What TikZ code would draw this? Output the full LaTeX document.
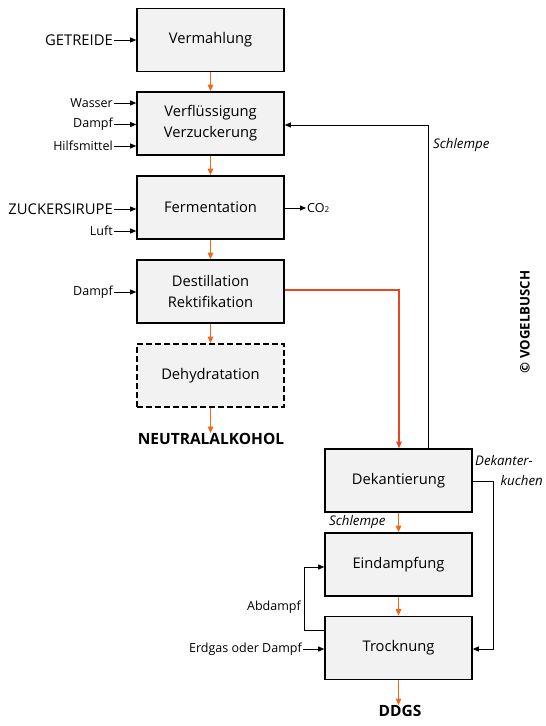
\documentclass[tikz,border=0pt]{standalone}
\usepackage{fontspec}
\setmainfont{Open Sans}
\usetikzlibrary{arrows.meta}
\definecolor{boxfill}{HTML}{F2F2F2}
\definecolor{flow}{HTML}{EE6A1A}
\definecolor{flowred}{HTML}{E8461E}
\begin{document}
\begin{tikzpicture}[x=1pt,y=-1pt,
  proc/.style={draw=black, line width=1.6pt, fill=boxfill, minimum width=147pt, minimum height=63pt, inner sep=0pt, align=center, font=\fontsize{14.7}{21}\selectfont},
  optproc/.style={proc, dashed, dash pattern=on 6pt off 3pt},
  inlab/.style={anchor=east, inner sep=1pt, font=\fontsize{12.5}{14}\selectfont},
  biglab/.style={anchor=east, inner sep=1pt, font=\fontsize{14.8}{17}\selectfont},
  outlab/.style={font=\bfseries\fontsize{15.5}{17}\selectfont, inner sep=0pt},
  itlab/.style={font=\itshape\fontsize{13.3}{15}\selectfont, inner sep=0pt},
  feed/.style={-{Triangle[length=6pt,width=5pt]}, line width=0.8pt, black},
  main/.style={-{Triangle[length=6.5pt,width=5.5pt]}, line width=1.3pt, flow},
]
\useasboundingbox (0,0) rectangle (546,726);
% left column
\node[proc] (verm) at (210.5,40) {Vermahlung};
\node[proc] (verf) at (210.5,123.5) {Verflüssigung\\Verzuckerung};
\node[proc] (ferm) at (210.5,207.5) {Fermentation};
\node[proc] (dest) at (210.5,291.5) {Destillation\\Rektifikation};
\node[optproc] (dehy) at (210.5,375.5) {Dehydratation};
\node[outlab] (neut) at (211,439) {NEUTRALALKOHOL};
% right column
\node[proc] (deka) at (398.5,480.5) {Dekantierung};
\node[proc] (eind) at (398.5,564.5) {Eindampfung};
\node[proc] (trock) at (398.5,648) {Trocknung};
\node[outlab] (ddgs) at (400,711) {DDGS};
% main flow
\draw[main] (verm) -- (verf);
\draw[main] (verf) -- (ferm);
\draw[main] (ferm) -- (dest);
\draw[main] (dest) -- (dehy);
\draw[main] (dehy) -- (dehy |- neut.north);
\draw[main] (deka) -- (eind);
\draw[main] (eind) -- (trock);
\draw[main] (trock) -- (trock |- ddgs.north);
\coordinate (dturn) at (399,290);
\draw[-{Triangle[length=6.5pt,width=5.5pt]}, line width=1.1pt, flowred] (dest.east |- dturn) -- (dturn) -- (deka.north -| dturn);
% inputs
\node[biglab] (getr) at (114,40) {GETREIDE};
\node[inlab] (wass) at (114,103) {Wasser};
\node[inlab] (damp1) at (114,124.5) {Dampf};
\node[inlab] (hilf) at (114,146) {Hilfsmittel};
\node[biglab] (zuck) at (114,209) {ZUCKERSIRUPE};
\node[inlab] (luft) at (114,231) {Luft};
\node[inlab] (damp2) at (114,292) {Dampf};
\node[inlab] (erdg) at (303,649) {Erdgas oder Dampf};
\foreach \n/\b in {getr/verm, wass/verf, damp1/verf, hilf/verf, zuck/ferm, luft/ferm, damp2/dest, erdg/trock}
  \draw[feed] (\n) -- (\n -| \b.west);
% CO2
\node[anchor=west, inner sep=1pt, font=\fontsize{12.5}{14}\selectfont] (co2) at (306,208) {CO{\fontsize{8}{8}\selectfont 2}};
\draw[feed] (ferm.east |- co2) -- (co2);
% Schlempe return
\coordinate (sr) at (428,125);
\draw[feed] (deka.north -| sr) -- (sr) -- (verf.east |- sr);
\node[itlab, anchor=west] (schl1) at (433,145) {Schlempe};
\node[itlab, anchor=west] (schl2) at (329,522) {Schlempe};
% Dekanterkuchen
\coordinate (dk1) at (493,481);
\coordinate (dk2) at (493,649);
\draw[feed] (deka.east |- dk1) -- (dk1) -- (dk2) -- (trock.east |- dk2);
\node[itlab, anchor=west] (dkl1) at (475,461) {Dekanter-};
\node[itlab, anchor=east] (dkl2) at (543,481) {kuchen};
% Abdampf
\coordinate (ab1) at (304,630);
\coordinate (ab2) at (304,567);
\draw[feed] (trock.west |- ab1) -- (ab1) -- (ab2) -- (eind.west |- ab2);
\node[inlab] (abd) at (302,607) {Abdampf};
% copyright
\node[rotate=90, font=\bfseries\fontsize{13.2}{15}\selectfont, inner sep=0pt] (copy) at (525,322) {© VOGELBUSCH};
\end{tikzpicture}
\end{document}
